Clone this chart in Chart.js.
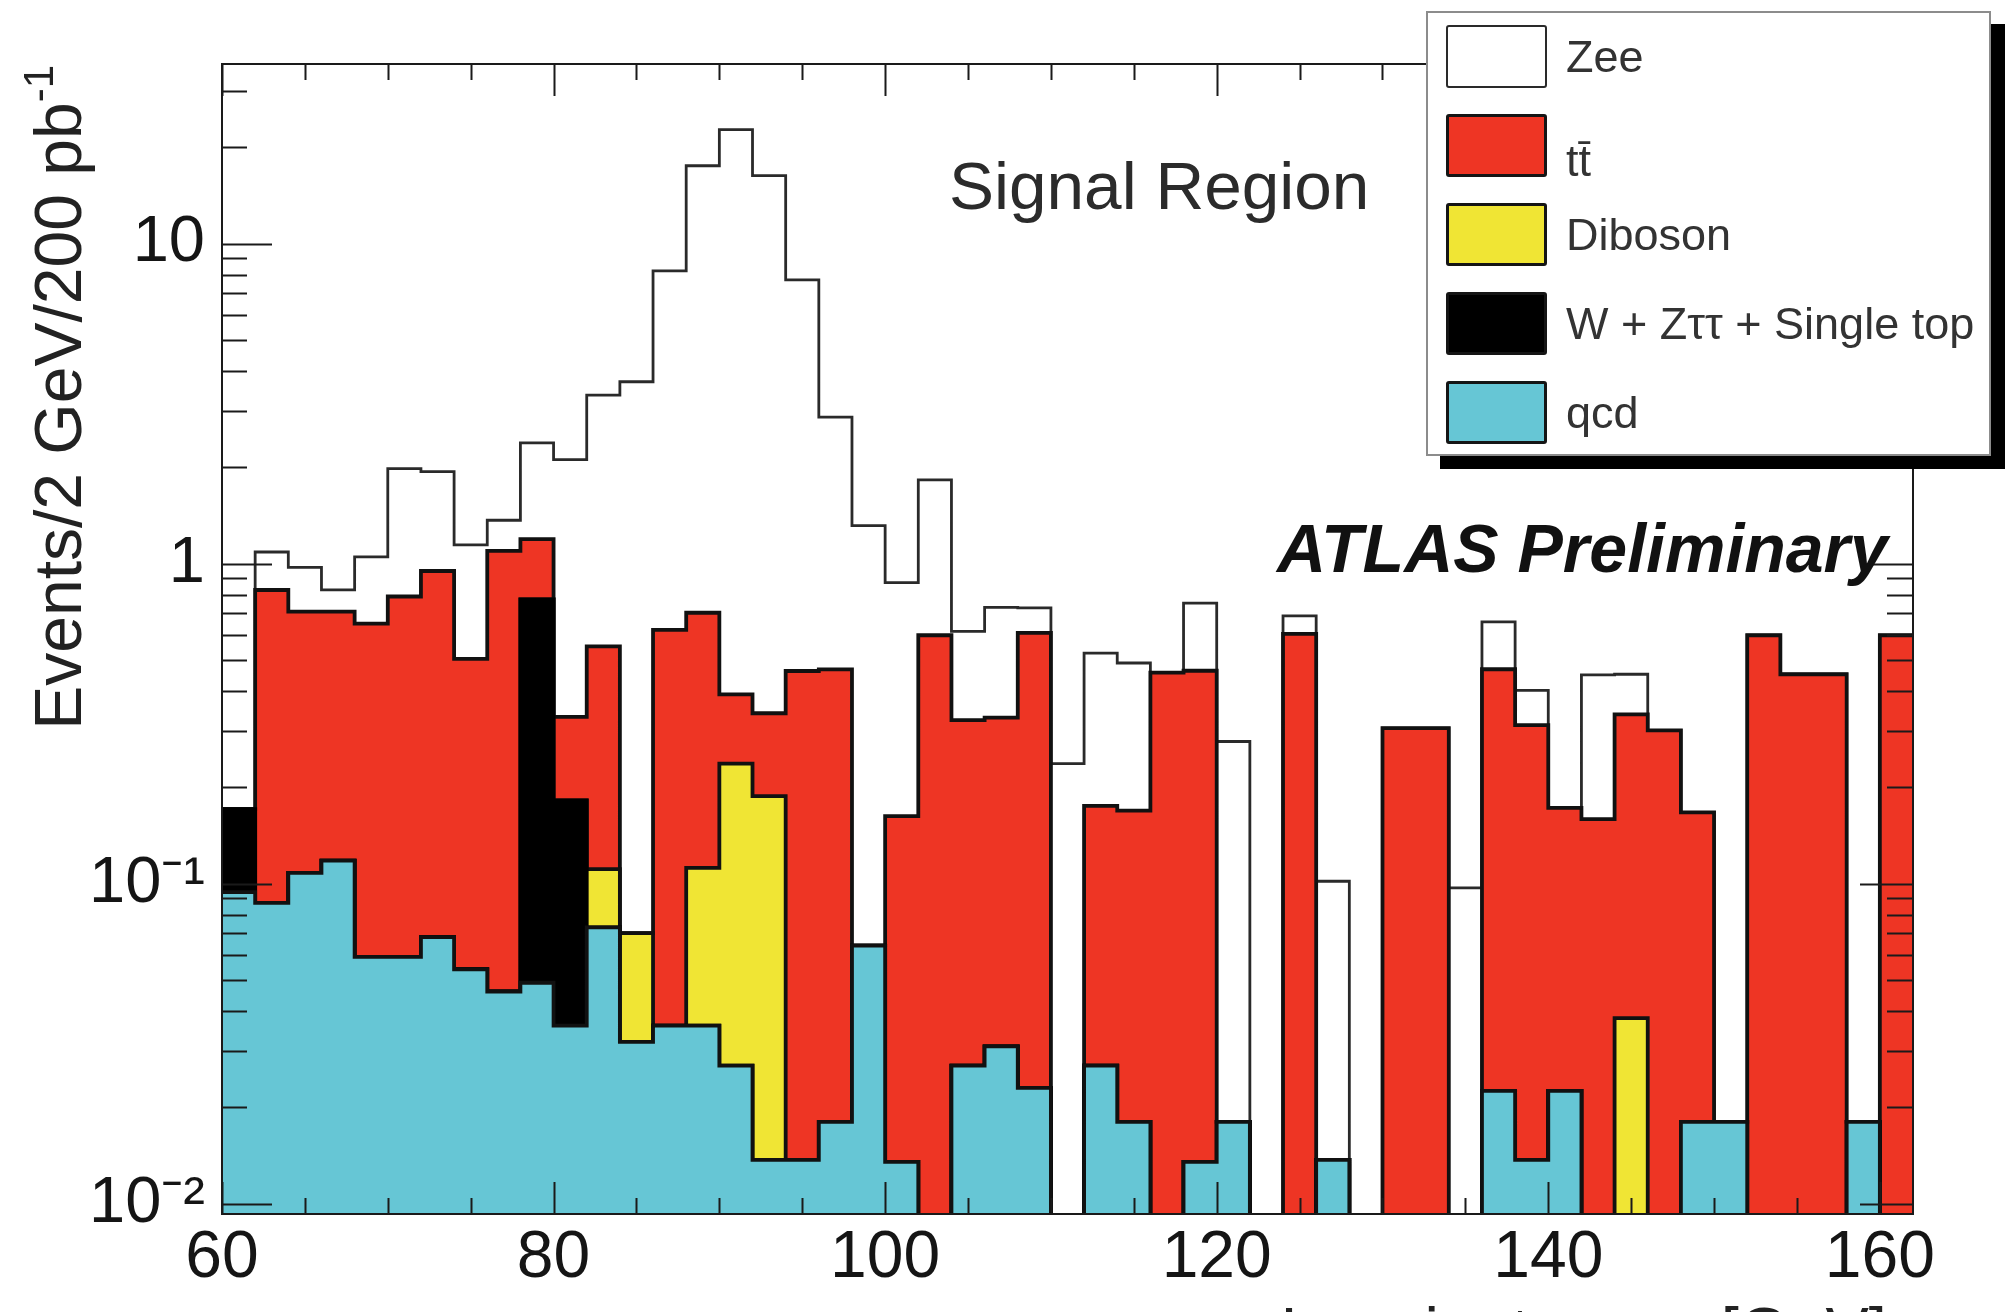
<!DOCTYPE html>
<html lang="en">
<head>
<meta charset="UTF-8">
<title>Signal Region</title>
<script src="https://cdn.jsdelivr.net/npm/chart.js"></script>
<style>
    html, body {
        margin: 0;
        padding: 0;
        background: #fff;
    }
    #wrap {
        position: relative;
        width: 2006px;
        height: 1312px;
        overflow: hidden;
        font-family: 'Liberation Sans', Arial, sans-serif;
        color: #222;
    }
    #plot {
        position: absolute;
        left: 0;
        top: 0;
    }
    .txt {
        position: absolute;
        white-space: nowrap;
    }
    #signal {
        left: 949px;
        top: 152px;
        font-size: 67.5px;
        line-height: 67.5px;
        color: #2b2b2b;
    }
    #atlas {
        left: 1277px;
        top: 514px;
        font-size: 68px;
        line-height: 68px;
        font-weight: bold;
        font-style: italic;
        color: #111;
    }
    #ytitle {
        left: 25px;
        top: 800px;
        width: 735px;
        text-align: right;
        font-size: 66px;
        line-height: 66px;
        transform-origin: 0 0;
        transform: rotate(-90deg);
    }
    #ytitle sup {
        font-size: 42px;
        line-height: 0;
        vertical-align: 28px;
    }
    #xtitle {
        left: 1280px;
        top: 1298px;
        font-size: 65px;
        line-height: 65px;
    }
    #legend {
        position: absolute;
        left: 1426px;
        top: 11px;
        width: 565px;
        height: 445px;
        box-sizing: border-box;
        border: 2px solid #8c8c8c;
        background: #fff;
        box-shadow: 14px 13px 0 #000;
        overflow: hidden;
    }
    .sw {
        position: absolute;
        left: 18px;
        width: 101px;
        height: 63px;
        box-sizing: border-box;
        border: 3px solid #151515;
        border-radius: 3px;
    }
    .lt {
        position: absolute;
        left: 138px;
        font-size: 45px;
        line-height: 45px;
        color: #333;
        white-space: nowrap;
    }
</style>
</head>
<body>
<div id="wrap">
    <canvas id="plot" width="2006" height="1312"></canvas>
    <div class="txt" id="signal">Signal Region</div>
    <div class="txt" id="atlas">ATLAS Preliminary</div>
    <div class="txt" id="ytitle">Events/2 GeV/200 pb<sup>-1</sup></div>
    <div class="txt" id="xtitle">Invariant mass [GeV]</div>
    <div id="legend"></div>
</div>
<script>
// bins: 2 GeV wide, low edges
const binLowEdges = [
    60, 62, 64, 66, 68, 70, 72, 74, 76, 78,
    80, 82, 84, 86, 88, 90, 92, 94, 96, 98,
    100, 102, 104, 106, 108, 110, 112, 114, 116, 118,
    120, 122, 124, 126, 128, 130, 132, 134, 136, 138,
    140, 142, 144, 146, 148, 150, 152, 154, 156, 158,
    160
];
const binUpperEdge = 162;

// events per bin for each sample
const qcd = [
    0.094, 0.087, 0.108, 0.118, 0.059, 0.059, 0.068, 0.054, 0.046, 0.049,
    0.036, 0.073, 0.032, 0.036, 0.036, 0.027, 0.0137, 0.0137, 0.018, 0.064,
    0.0135, 0, 0.027, 0.031, 0.023, 0, 0.027, 0.018, 0, 0.0135,
    0.018, 0, 0, 0.0137, 0, 0, 0, 0, 0.0225, 0.0137,
    0.0225, 0, 0, 0, 0.018, 0.018, 0, 0, 0, 0.018,
    0
];
const wzst = [
    0.077, 0, 0, 0, 0, 0, 0, 0, 0, 0.724,
    0.146, 0, 0, 0, 0, 0, 0, 0, 0, 0,
    0, 0, 0, 0, 0, 0, 0, 0, 0, 0,
    0, 0, 0, 0, 0, 0, 0, 0, 0, 0,
    0, 0, 0, 0, 0, 0, 0, 0, 0, 0,
    0
];
const diboson = [
    0, 0, 0, 0, 0, 0, 0, 0, 0, 0,
    0, 0.038, 0.038, 0, 0.076, 0.21, 0.174, 0, 0, 0,
    0, 0, 0, 0, 0, 0, 0, 0, 0, 0,
    0, 0, 0, 0, 0, 0, 0, 0, 0, 0,
    0, 0, 0.038, 0, 0, 0, 0, 0, 0, 0,
    0
];
const ttbar = [
    0, 0.74, 0.60, 0.59, 0.59, 0.73, 0.88, 0.45, 1.05, 0.42,
    0.15, 0.44, 0, 0.585, 0.59, 0.153, 0.153, 0.448, 0.449, 0,
    0.149, 0.597, 0.297, 0.299, 0.584, 0, 0.148, 0.151, 0.456, 0.449,
    0, 0, 0.603, 0, 0, 0.306, 0.306, 0, 0.445, 0.299,
    0.150, 0.159, 0.30, 0.301, 0.149, 0, 0.597, 0.451, 0.451, 0,
    0.597
];
const zee = [
    0, 0.26, 0.265, 0.12, 0.40, 1.19, 0.99, 0.64, 0.27, 1.19,
    1.78, 2.81, 3.63, 7.6, 16.8, 22.3, 15.96, 7.24, 2.40, 1.25,
    0.71, 1.23, 0.29, 0.40, 0.12, 0.237, 0.35, 0.32, 0, 0.29,
    0.26, 0, 0.083, 0.088, 0, 0, 0, 0.097, 0.19, 0.089,
    0, 0.29, 0.113, 0, 0, 0, 0, 0, 0, 0,
    0
];

// axes
const X_MIN = 60, X_MAX = 162;
const Y_MIN = 0.00928, Y_MAX = 36.4;
const xTickValues = [60, 65, 70, 75, 80, 85, 90, 95, 100, 105, 110, 115, 120, 125, 130, 135, 140, 145, 150, 155, 160];
const xLabelValues = [60, 80, 100, 120, 140, 160];
const yDecades = [0.01, 0.1, 1, 10];
const yDecadeLabels = ['10\u207B\u00B2', '10\u207B\u00B9', '1', '10'];

// legend
const legendLabels = ['Zee', 'tt\u0304', 'Diboson', 'W + Z\u03C4\u03C4 + Single top', 'qcd'];
const fillColors = ['#ffffff', '#ee3524', '#f0e534', '#000000', '#66c6d5'];
const lineColors = ['#2a2a2a', '#111111', '#111111', '#000000', '#111111'];

// y ticks: 1..9 in each decade
const yTicks = [];
yDecades.forEach(d => {
    for (let k = 1; k <= 9; k++) {
        const v = d * k;
        if (v >= Y_MIN && v <= Y_MAX) yTicks.push({value: v, major: k === 1});
    }
});

function addArrays(a, b) {
    return a.map((v, i) => v + b[i]);
}

// stacking, bottom to top
const cumQcd = qcd.slice();
const cumW = addArrays(cumQcd, wzst);
const cumDib = addArrays(cumW, diboson);
const cumTt = addArrays(cumDib, ttbar);
const cumZee = addArrays(cumTt, zee);

// empty bins go under the frame on a log axis
function stepPoints(cum) {
    const pts = binLowEdges.map((x, i) => ({x: x, y: cum[i] > 0 ? cum[i] : Y_MIN / 10}));
    pts.push({x: binUpperEdge, y: pts[pts.length - 1].y});
    return pts;
}

function histDataset(idx, cum, width) {
    return {
        label: legendLabels[idx],
        data: stepPoints(cum),
        stepped: true,
        fill: 'start',
        backgroundColor: fillColors[idx],
        borderColor: lineColors[idx],
        borderWidth: width,
        borderJoinStyle: 'miter',
        pointRadius: 0,
        order: 5 - idx
    };
}

// frame with inward ticks on all four sides
const frameTicks = {
    id: 'frameTicks',
    afterDatasetsDraw(chart) {
        const ctx = chart.ctx;
        const a = chart.chartArea;
        const xs = chart.scales.x;
        const ys = chart.scales.y;
        ctx.save();
        ctx.strokeStyle = '#1a1a1a';
        ctx.lineWidth = 2;
        ctx.beginPath();
        xs.ticks.forEach(t => {
            const px = Math.round(xs.getPixelForValue(t.value)) + 0.5;
            const len = xLabelValues.includes(t.value) ? 32 : 16;
            ctx.moveTo(px, a.bottom);
            ctx.lineTo(px, a.bottom - len);
            ctx.moveTo(px, a.top);
            ctx.lineTo(px, a.top + len);
        });
        ys.ticks.forEach(t => {
            const py = Math.round(ys.getPixelForValue(t.value)) + 0.5;
            const major = yDecades.indexOf(t.value) >= 0;
            ctx.moveTo(a.left, py);
            ctx.lineTo(a.left + (major ? 50 : 25), py);
            ctx.moveTo(a.right, py);
            ctx.lineTo(a.right - (major ? 53 : 26), py);
        });
        ctx.stroke();
        ctx.strokeRect(a.left, a.top, a.right - a.left, a.bottom - a.top);
        ctx.restore();
    }
};

new Chart(document.getElementById('plot'), {
    type: 'line',
    data: {
        datasets: [
            histDataset(0, cumZee, 2.8),
            histDataset(1, cumTt, 3.8),
            histDataset(2, cumDib, 3.8),
            histDataset(3, cumW, 3.8),
            histDataset(4, cumQcd, 3.8)
        ]
    },
    options: {
        responsive: false,
        animation: false,
        devicePixelRatio: 1,
        layout: {
            padding: {top: 64, right: 93, left: 0, bottom: 0}
        },
        plugins: {
            legend: {display: false},
            tooltip: {enabled: false}
        },
        scales: {
            x: {
                type: 'linear',
                min: X_MIN,
                max: X_MAX,
                afterBuildTicks: s => { s.ticks = xTickValues.map(v => ({value: v})); },
                afterFit: s => { s.height = 98; },
                grid: {display: false, drawTicks: false},
                border: {display: false},
                ticks: {
                    padding: 5,
                    autoSkip: false,
                    maxRotation: 0,
                    color: '#151515',
                    font: {family: 'Liberation Sans', size: 66},
                    callback: v => xLabelValues.includes(v) ? String(v) : ''
                }
            },
            y: {
                type: 'logarithmic',
                min: Y_MIN,
                max: Y_MAX,
                afterBuildTicks: s => { s.ticks = yTicks.map(t => ({value: t.value})); },
                afterFit: s => { s.width = 222; },
                grid: {display: false, drawTicks: false},
                border: {display: false},
                ticks: {
                    padding: 17,
                    autoSkip: false,
                    color: '#151515',
                    font: {family: 'Liberation Sans', size: 65},
                    callback: v => {
                        const k = yDecades.indexOf(v);
                        return k >= 0 ? yDecadeLabels[k] : '';
                    }
                }
            }
        }
    },
    plugins: [frameTicks]
});

// legend box
const legend = document.getElementById('legend');
legendLabels.forEach((label, k) => {
    const rowTop = 11.5 + 89 * k;
    const sw = document.createElement('div');
    sw.className = 'sw';
    sw.style.top = rowTop + 'px';
    sw.style.background = fillColors[k];
    if (k === 0) {
        sw.style.borderColor = lineColors[0];
        sw.style.borderWidth = '2.5px';
    }
    legend.appendChild(sw);
    const lt = document.createElement('div');
    lt.className = 'lt';
    lt.style.top = (rowTop + 9.5 + (k === 1 ? 15 : 0)) + 'px';
    lt.textContent = label;
    legend.appendChild(lt);
});
</script>
</body>
</html>
